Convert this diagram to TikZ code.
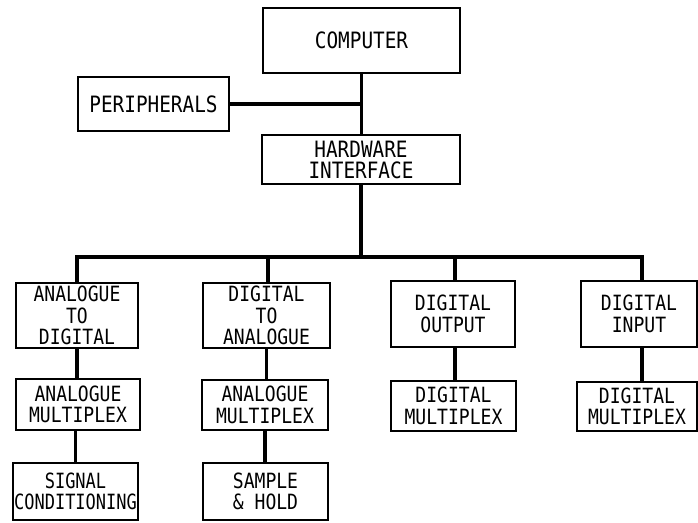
\documentclass[tikz,border=0pt]{standalone}
\usepackage{fontspec}
\newfontfamily\diafont[FakeStretch=0.86]{DejaVu Sans Mono}
\newfontfamily\diafontnarrow[FakeStretch=0.81]{DejaVu Sans Mono}
\begin{document}
\begin{tikzpicture}[x=1pt,y=-1pt,
  box/.style={draw, line width=1.8pt, inner sep=0pt, align=center,
    font=\diafont\fontsize{21}{21.5}\selectfont},
  topbox/.style={box, font=\diafont\fontsize{22.5}{21}\selectfont},
  narrowbox/.style={box, font=\diafontnarrow\fontsize{21}{21.5}\selectfont},
  conn/.style={line width=3.4pt}]
\useasboundingbox (0,0) rectangle (698,522);
% boxes
\node[topbox, minimum width=197pt, minimum height=65pt] (comp) at (361.5,40.5) {COMPUTER};
\node[topbox, minimum width=151pt, minimum height=54pt] (per) at (153.5,104) {PERIPHERALS};
\node[topbox, minimum width=198pt, minimum height=49pt] (hw) at (361,159.5) {HARDWARE\\INTERFACE};
\node[box, minimum width=122pt, minimum height=65pt] (a2d) at (77,315.5) {ANALOGUE\\TO\\DIGITAL};
\node[box, minimum width=127pt, minimum height=65pt] (d2a) at (266.5,315.5) {DIGITAL\\TO\\ANALOGUE};
\node[box, minimum width=124pt, minimum height=66pt] (dout) at (453,314) {DIGITAL\\OUTPUT};
\node[box, minimum width=116pt, minimum height=66pt] (din) at (639,314) {DIGITAL\\INPUT};
\node[box, minimum width=124pt, minimum height=51pt] (mux1) at (78,404.5) {ANALOGUE\\MULTIPLEX};
\node[box, minimum width=126pt, minimum height=50pt] (mux2) at (265,405) {ANALOGUE\\MULTIPLEX};
\node[box, minimum width=125pt, minimum height=50pt] (mux3) at (453.5,406) {DIGITAL\\MULTIPLEX};
\node[box, minimum width=120pt, minimum height=49pt] (mux4) at (637,406.5) {DIGITAL\\MULTIPLEX};
\node[narrowbox, minimum width=125pt, minimum height=57pt] (sig) at (75.5,491.5) {SIGNAL\\CONDITIONING};
\node[box, minimum width=125pt, minimum height=57pt] (sh) at (265.5,491.5) {SAMPLE\\\& HOLD};
% bus coordinates
\coordinate (bL) at (77,257);
\coordinate (b2) at (268,257);
\coordinate (b3) at (455,257);
\coordinate (bR) at (642,257);
% connectors
\draw[conn] (comp.south) -- (comp.south |- hw.north);
\draw[conn] (per.east) -- (per.east -| comp.south);
\draw[conn] (hw.south) -- (hw.south |- bL);
\draw[conn] (a2d.north) -- (bL) -- (bR) -- (bR |- din.north);
\draw[conn] (b2) -- (b2 |- d2a.north);
\draw[conn] (b3) -- (b3 |- dout.north);
\draw[conn] (a2d.south) -- (a2d.south |- mux1.north);
\draw[conn] (mux1.south -| sig.north) -- (sig.north);
\draw[conn] (d2a.south) -- (d2a.south |- mux2.north);
\draw[conn] (mux2.south) -- (mux2.south |- sh.north);
\draw[conn] (b3 |- dout.south) -- (b3 |- mux3.north);
\draw[conn] (bR |- din.south) -- (bR |- mux4.north);
\end{tikzpicture}
\end{document}
